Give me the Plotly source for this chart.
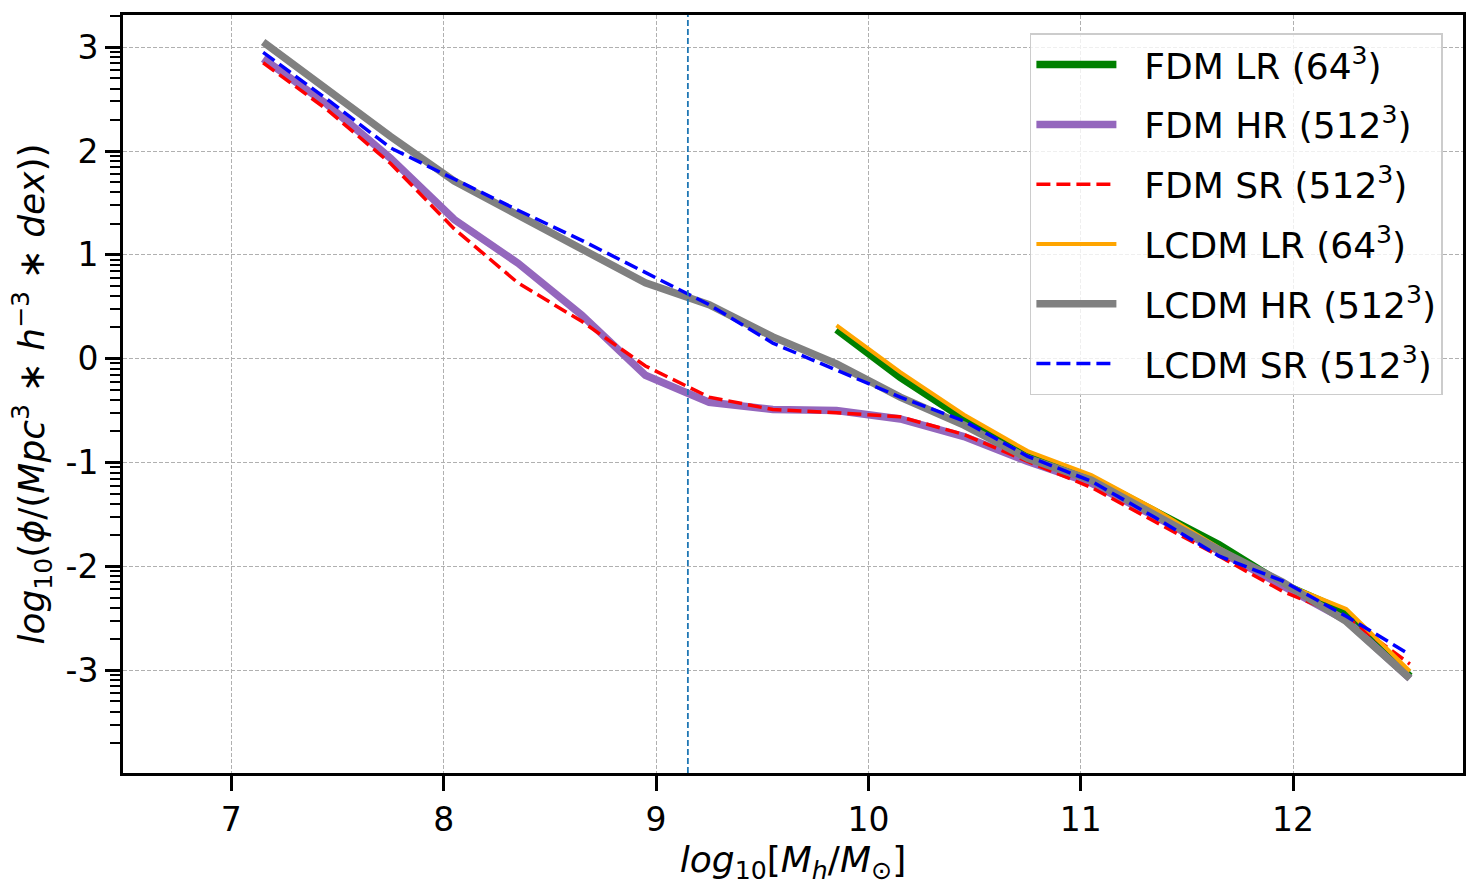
from plotly import graph_objects as go
import numpy as np

# halo mass bins (log10 Mh/Msun)
mass_hr = [7.15, 7.45, 7.75, 8.05, 8.35, 8.65, 8.95, 9.25, 9.55, 9.85,
           10.15, 10.45, 10.75, 11.05, 11.35, 11.65, 11.95, 12.25, 12.55]
mass_lr = [9.85, 10.15, 10.45, 10.75, 11.05, 11.35, 11.65, 11.95, 12.25, 12.55]

# log10 mass function values
fdm_lr = [0.28, -0.18, -0.58, -0.92, -1.15, -1.48, -1.79, -2.17, -2.44, -3.06]
fdm_hr = [2.89, 2.45, 1.93, 1.34, 0.92, 0.42, -0.16, -0.42, -0.49, -0.50,
          -0.58, -0.75, -0.99, -1.20, -1.52, -1.86, -2.18, -2.52, -3.08]
fdm_sr = [2.85, 2.40, 1.88, 1.25, 0.73, 0.36, -0.07, -0.37, -0.49, -0.52,
          -0.56, -0.73, -0.99, -1.24, -1.57, -1.90, -2.24, -2.49, -2.94]
lcdm_lr = [0.32, -0.13, -0.54, -0.89, -1.12, -1.45, -1.82, -2.16, -2.41, -3.01]
lcdm_hr = [3.05, 2.59, 2.14, 1.71, 1.38, 1.05, 0.73, 0.52, 0.21, -0.05,
           -0.37, -0.64, -0.96, -1.17, -1.51, -1.84, -2.15, -2.53, -3.08]
lcdm_sr = [2.95, 2.50, 2.03, 1.73, 1.43, 1.14, 0.83, 0.52, 0.15, -0.11,
           -0.37, -0.60, -0.94, -1.18, -1.53, -1.90, -2.14, -2.48, -2.85]

mass_cut = 9.15

x_ticks = [7, 8, 9, 10, 11, 12]
y_ticks = [-3, -2, -1, 0, 1, 2, 3]
y_ticktext = ["-3", "-2", "-1", "0", "1", "2", "3"]

FONT = "DejaVu Sans"
DASH = "14px,6px"
GAP = "\u00a0\u00a0"  # push legend text away from the line sample

series = [
    ("FDM LR (64<sup>3</sup>)", mass_lr, fdm_lr, "green", 7.5, "solid"),
    ("FDM HR (512<sup>3</sup>)", mass_hr, fdm_hr, "#9467bd", 7.5, "solid"),
    ("FDM SR (512<sup>3</sup>)", mass_hr, fdm_sr, "red", 3.5, DASH),
    ("LCDM LR (64<sup>3</sup>)", mass_lr, lcdm_lr, "orange", 4, "solid"),
    ("LCDM HR (512<sup>3</sup>)", mass_hr, lcdm_hr, "gray", 7.5, "solid"),
    ("LCDM SR (512<sup>3</sup>)", mass_hr, lcdm_sr, "blue", 3.5, DASH),
]

fig = go.Figure()
for i, (name, xs, ys, color, width, dash) in enumerate(series):
    fig.add_trace(go.Scatter(
        x=xs, y=ys, name=GAP + name, mode="lines", legendgroup=f"g{i}",
        line=dict(color=color, width=width, dash=dash)
    ))

fig.add_vline(x=mass_cut, line=dict(color="#1f77b4", width=1.8, dash="6px,3px"))

# log-style minor ticks between integer decades
minor_vals = [n + np.log10(k) for n in range(-4, 4) for k in range(2, 10)]

axis_common = dict(
    showgrid=True, gridcolor="#b0b0b0", gridwidth=0.8, griddash="4px,2px",
    zeroline=False,
    showline=True, linecolor="black", linewidth=3, mirror=True,
    ticks="outside", ticklen=15, tickwidth=3, tickcolor="black",
    tickfont=dict(family=FONT, size=33, color="black"),
)

fig.update_layout(
    width=1478, height=892,
    margin=dict(l=123, r=13, t=14, b=119),
    plot_bgcolor="white",
    paper_bgcolor="white",
    font=dict(family=FONT, size=32, color="black"),
    showlegend=True,
    legend=dict(
        x=0.985, y=0.976, xanchor="right", yanchor="top",
        bgcolor="rgba(255,255,255,0.8)",
        bordercolor="#cccccc", borderwidth=1.5,
        font=dict(family=FONT, size=36, color="black"),
        tracegroupgap=10,
        itemwidth=80,
    ),
    xaxis=dict(
        range=[6.49, 12.8],
        tickvals=x_ticks,
        title=dict(text="<i>log</i><sub>10</sub>[<i>M<sub>h</sub></i>/<i>M</i><sub>⊙</sub>]",
                   font=dict(family=FONT, size=36, color="black"), standoff=8),
        **axis_common,
    ),
    yaxis=dict(
        range=[-3.99, 3.31],
        tickvals=y_ticks, ticktext=y_ticktext,
        minor=dict(tickmode="array", tickvals=minor_vals, ticks="outside",
                   ticklen=10, tickwidth=2, tickcolor="black", showgrid=False),
        title=dict(text="<i>log</i><sub>10</sub>(<i>ϕ</i>/(<i>Mpc</i><sup>3</sup> ∗ <i>h</i><sup>−3</sup> ∗ <i>dex</i>))",
                   font=dict(family=FONT, size=36, color="black"), standoff=10),
        **axis_common,
    ),
)

fig.write_html("out.html", config={"displayModeBar": False},
               post_script="document.body.style.margin='0';")
